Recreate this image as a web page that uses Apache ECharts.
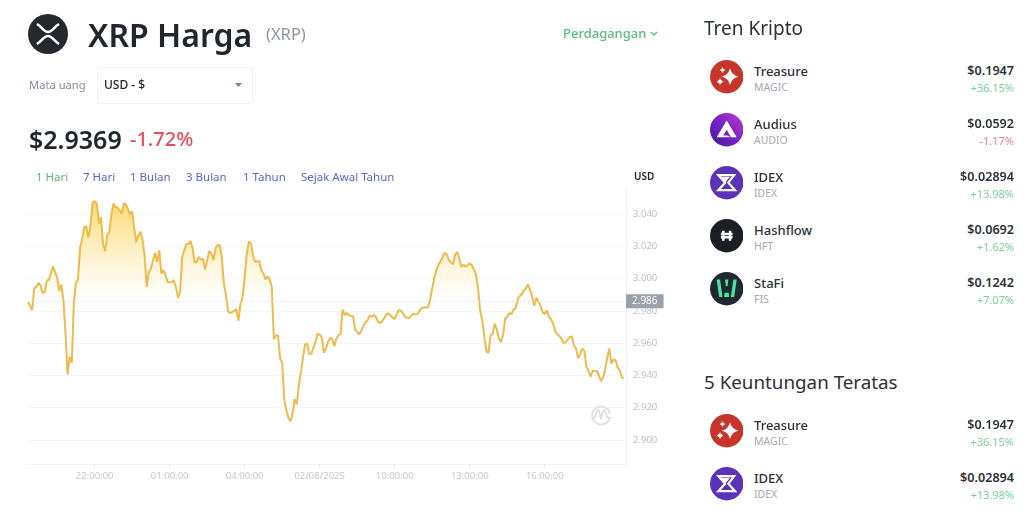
<!DOCTYPE html>
<html>
<head>
<meta charset="utf-8">
<style>
  html, body { margin: 0; padding: 0; background: #fff; }
  body { width: 1024px; height: 512px; position: relative; overflow: hidden; font-family: "Noto Sans", sans-serif; color: #1e2329; }
  #chart { position: absolute; left: 0; top: 0; width: 680px; height: 512px; }
  .t { position: absolute; white-space: nowrap; line-height: 1; }
  .r { text-align: right; right: 10px; }
  svg { position: absolute; }
</style>
</head>
<body>
<div id="chart"></div>
<div id="page"></div>
<script src="https://cdn.jsdelivr.net/npm/echarts@6/dist/echarts.min.js"></script>
<script>
// prices, one every 5 minutes from 19:20
const prices = [
  2.9855,2.9831,2.9804,2.9938,2.9950,2.9973,2.9959,2.9911,2.9917,2.9986,
  2.9994,3.0031,3.0076,3.0041,3.0006,2.9921,2.9963,2.9866,2.9659,2.9405,
  2.9514,2.9479,2.9845,2.9973,2.9994,3.0192,3.0248,3.0320,3.0322,3.0254,
  3.0331,3.0469,3.0481,3.0465,3.0341,3.0382,3.0217,3.0169,3.0269,3.0285,
  3.0393,3.0465,3.0444,3.0440,3.0424,3.0403,3.0469,3.0461,3.0430,3.0399,
  3.0417,3.0310,3.0227,3.0269,3.0291,3.0238,3.0134,2.9948,3.0041,3.0062,
  3.0114,3.0159,3.0103,3.0176,3.0031,3.0052,3.0021,2.9979,2.9977,2.9977,
  2.9990,2.9948,2.9882,2.9917,3.0134,3.0176,3.0213,3.0217,3.0233,3.0186,
  3.0099,3.0103,3.0134,3.0118,3.0122,3.0056,3.0114,3.0171,3.0155,3.0114,
  3.0186,3.0209,3.0207,3.0134,2.9969,2.9897,2.9800,2.9785,2.9793,2.9800,
  2.9810,2.9738,2.9845,2.9886,3.0010,3.0155,3.0231,3.0217,3.0145,3.0103,
  3.0107,3.0107,3.0052,3.0031,2.9994,3.0014,2.9994,2.9948,2.9624,2.9647,
  2.9647,2.9504,2.9479,2.9246,2.9184,2.9136,2.9116,2.9163,2.9252,2.9219,
  2.9339,2.9422,2.9514,2.9593,2.9595,2.9531,2.9535,2.9570,2.9607,2.9659,
  2.9651,2.9636,2.9539,2.9566,2.9607,2.9632,2.9626,2.9581,2.9628,2.9649,
  2.9655,2.9808,2.9773,2.9787,2.9773,2.9767,2.9767,2.9684,2.9669,2.9655,
  2.9680,2.9707,2.9729,2.9742,2.9771,2.9762,2.9775,2.9762,2.9731,2.9723,
  2.9738,2.9756,2.9779,2.9783,2.9771,2.9758,2.9750,2.9779,2.9806,2.9800,
  2.9783,2.9762,2.9758,2.9754,2.9771,2.9781,2.9777,2.9781,2.9802,2.9818,
  2.9820,2.9820,2.9822,2.9870,2.9938,3.0006,3.0052,3.0087,3.0107,3.0134,
  3.0161,3.0149,3.0114,3.0103,3.0089,3.0149,3.0165,3.0124,3.0072,3.0087,
  3.0074,3.0083,3.0095,3.0083,3.0056,3.0027,2.9938,2.9800,2.9742,2.9638,
  2.9548,2.9541,2.9651,2.9655,2.9721,2.9684,2.9628,2.9607,2.9649,2.9752,
  2.9762,2.9787,2.9779,2.9808,2.9814,2.9870,2.9891,2.9903,2.9928,2.9938,
  2.9965,2.9928,2.9886,2.9831,2.9882,2.9855,2.9829,2.9793,2.9779,2.9804,
  2.9762,2.9748,2.9721,2.9674,2.9655,2.9645,2.9628,2.9601,2.9605,2.9622,
  2.9638,2.9641,2.9587,2.9566,2.9508,2.9531,2.9566,2.9552,2.9453,2.9428,
  2.9391,2.9428,2.9426,2.9426,2.9401,2.9364,2.9386,2.9438,2.9508,2.9566,
  2.9473,2.9498,2.9494,2.9448,2.9432,2.9386,2.9382
]
const baseline = 2.986
const yTicks = [2.90, 2.92, 2.94, 2.96, 2.98, 3.00, 3.02, 3.04]
const xTickTimes = ['22:00', '01:00', '04:00', '07:00', '10:00', '13:00', '16:00']
const xTickLabels = ['22:00:00', '01:00:00', '04:00:00', '02/08/2025', '10:00:00', '13:00:00', '16:00:00']
const rangeTabs = ['1 Hari', '7 Hari', '1 Bulan', '3 Bulan', '1 Tahun', 'Sejak Awal Tahun']

const coinNames = ['Treasure', 'Audius', 'IDEX', 'Hashflow', 'StaFi']
const coinSymbols = ['MAGIC', 'AUDIO', 'IDEX', 'HFT', 'FIS']
const coinPrices = ['$0.1947', '$0.0592', '$0.02894', '$0.0692', '$0.1242']
const coinChanges = ['+36.15%', '-1.17%', '+13.98%', '+1.62%', '+7.07%']

// time axis slots, one every 5 minutes, plus one empty slot at the end
const times = []
for (let i = 0; i <= prices.length; i++) {
  const m = (19 * 60 + 20 + i * 5) % 1440
  times.push(String(Math.floor(m / 60)).padStart(2, '0') + ':' + String(m % 60).padStart(2, '0'))
}

const hi = Math.max(...prices), lo = Math.min(...prices)
const fadeStop = (hi - baseline) / (hi - lo)

const chart = echarts.init(document.getElementById('chart'))
chart.setOption({
  animation: false,
  grid: { left: 28, right: 54, top: 187.5, bottom: 48 },
  xAxis: {
    type: 'category',
    data: times,
    boundaryGap: false,
    axisLine: { lineStyle: { color: '#f0f1f2' } },
    axisTick: { length: 4, lineStyle: { color: '#e6e8ea' }, interval: (i, v) => xTickTimes.includes(v) },
    axisLabel: {
      interval: (i, v) => xTickTimes.includes(v),
      formatter: v => xTickLabels[xTickTimes.indexOf(v)],
      color: '#c2c7ce', fontSize: 9.5, margin: 7,
      fontFamily: 'Noto Sans'
    },
    splitLine: { show: false }
  },
  yAxis: {
    type: 'value',
    position: 'right',
    min: 2.885,
    max: 3.0565,
    axisLine: { show: true, lineStyle: { color: '#f0f1f2' } },
    axisTick: { show: false, customValues: yTicks },
    axisLabel: {
      customValues: yTicks,
      formatter: v => v.toFixed(3),
      color: '#bcc1c8', fontSize: 9.5, margin: 7,
      fontFamily: 'Noto Sans'
    },
    splitLine: { show: true, lineStyle: { color: '#f6f6f7' } }
  },
  series: [{
    type: 'line',
    data: prices,
    showSymbol: false,
    lineStyle: { color: '#edbb4c', width: 2 },
    areaStyle: {
      origin: baseline,
      opacity: 1,
      color: new echarts.graphic.LinearGradient(0, 0, 0, 1, [
        { offset: 0, color: '#fbd970' },
        { offset: fadeStop, color: 'rgba(255,255,255,0.6)' },
        { offset: fadeStop + 0.001, color: 'rgba(255,255,255,0)' },
        { offset: 1, color: 'rgba(255,255,255,0)' }
      ])
    },
    markLine: {
      silent: true,
      symbol: 'none',
      precision: 3,
      data: [{ yAxis: baseline }],
      lineStyle: { color: '#e2e4e7', type: 'dotted', width: 1 },
      label: {
        position: 'end',
        distance: 0,
        formatter: () => baseline.toFixed(3),
        backgroundColor: '#9ba1ab',
        color: '#fff',
        fontSize: 10,
        padding: [2, 6, 2, 6],
        fontFamily: 'Noto Sans'
      }
    }
  }]
})

// page parts around the chart
const page = document.getElementById('page')
function text(str, x, y, size, color, weight, right) {
  const d = document.createElement('div')
  d.className = right ? 't r' : 't'
  d.textContent = str
  d.style.cssText += `top:${y - size * 0.5}px;font-size:${size}px;color:${color};font-weight:${weight || 400};` + (right ? '' : `left:${x}px;`)
  page.appendChild(d)
  return d
}
function icon(svg, cx, cy, r) {
  page.insertAdjacentHTML('beforeend', `<svg width="${r * 2}" height="${r * 2}" viewBox="0 0 40 40" style="left:${cx - r}px;top:${cy - r}px">${svg}</svg>`)
}
const star = (x, y, a, b) => `<path fill="#fff" d="M${x} ${y - a}Q${x + b * 0.3} ${y - b * 0.3} ${x + a} ${y}Q${x + b * 0.3} ${y + b * 0.3} ${x} ${y + a}Q${x - b * 0.3} ${y + b * 0.3} ${x - a} ${y}Q${x - b * 0.3} ${y - b * 0.3} ${x} ${y - a}Z"/>`
const coinIcons = [
  `<circle cx="20" cy="20" r="20" fill="#c8352b"/>${star(24, 20, 10, 6)}${star(12, 26, 4, 3)}${star(15, 12, 3.5, 2.5)}`,
  `<defs><linearGradient id="au" x1="0" y1="1" x2="1" y2="0"><stop offset="0" stop-color="#3a1a9c"/><stop offset="0.5" stop-color="#7a22c4"/><stop offset="1" stop-color="#c23bd0"/></linearGradient></defs><circle cx="20" cy="20" r="20" fill="url(#au)"/><path fill="#fff" d="M20 9L32 29H25L20 20L16 27H21L24 29H8Z"/>`,
  `<circle cx="20" cy="20" r="20" fill="#5b33b8"/><path fill="none" stroke="#fff" stroke-width="2.6" d="M10 11H29L22 20L30 29H10L18 20Z"/><path fill="#fff" d="M13 13H24L18 20Z"/>`,
  `<circle cx="20" cy="20" r="20" fill="#1b1e24"/><path stroke="#fff" stroke-width="3" d="M16 14V26M24 14V26M13 18H27M13 22H27" fill="none"/>`,
  `<circle cx="20" cy="20" r="20" fill="#1f2a30"/><path fill="#4fe3a0" d="M8 9H12L15 30H11ZM32 9H28L25 30H29ZM18 9H22L21 17H19ZM17.5 25H22.5L23 30H17Z"/>`
]

// header
icon(`<circle cx="20" cy="20" r="20" fill="#23292f"/><path fill="none" stroke="#fff" stroke-width="2.6" d="M9 10C14 13 16 18 20 18C24 18 26 13 31 10M9 30C14 27 16 22 20 22C24 22 26 27 31 30"/>`, 48, 34, 20)
text('XRP Harga', 88, 35, 32, '#20262d', 600)
text('(XRP)', 266, 34, 16.5, '#8e96a3')
text('Perdagangan', 563, 33, 13, '#58bd7d', 500)
page.insertAdjacentHTML('beforeend', `<svg width="10" height="8" style="left:649px;top:30px"><path d="M2 2L5 5L8 2" fill="none" stroke="#58bd7d" stroke-width="1.4"/></svg>`)
text('Mata uang', 29, 85, 11.2, '#848e9c')
page.insertAdjacentHTML('beforeend', `<div style="position:absolute;left:97px;top:67px;width:154px;height:35px;border:1px solid #f1f2f3;border-radius:3px"></div>`)
text('USD - $', 104, 85, 12, '#1e2329', 500)
page.insertAdjacentHTML('beforeend', `<svg width="10" height="6" style="left:234px;top:82px"><path d="M1 1H8L4.5 5Z" fill="#7d8590"/></svg>`)
text('$2.9369', 29, 139, 25, '#20262d', 600)
text('-1.72%', 130, 139, 20, '#ea4d5c', 500)

// range tabs and unit
const tabX = [36, 83, 130, 186, 243, 301]
rangeTabs.forEach((t, i) => text(t, tabX[i], 177, 11.5, i === 0 ? '#5cb870' : '#5a66c4'))
text('USD', 634, 176, 10, '#1e2329', 600)

// watermark
page.insertAdjacentHTML('beforeend', `<svg width="22" height="22" viewBox="0 0 22 22" style="left:590px;top:405px"><path fill="none" stroke="#dfe1e4" stroke-width="2" d="M20 12A9 9 0 1 1 20 9M3 14C6 14 6 5 8 5C10 5 10 14 11 14C12 14 12 5 14 5C16 5 16 14 20 14"/></svg>`)

// side lists
function coinRow(i, cy) {
  icon(coinIcons[i], 726.7, cy, 16.7)
  text(coinNames[i], 754, cy - 6, 13, '#2b3139', 500)
  text(coinSymbols[i], 754, cy + 10, 10.5, '#a3a9b4')
  text(coinPrices[i], 0, cy - 6, 12.6, '#2b3139', 600, true)
  text(coinChanges[i], 0, cy + 10, 11, coinChanges[i][0] === '-' ? '#f27f8c' : '#7ccfa0', 400, true)
}
text('Tren Kripto', 704, 28, 19, '#2b3139')
;[0, 1, 2, 3, 4].forEach((c, i) => coinRow(c, 77 + i * 53))
text('5 Keuntungan Teratas', 704, 382, 18.8, '#2b3139')
;[0, 2].forEach((c, i) => coinRow(c, 431 + i * 53))
</script>
</body>
</html>
